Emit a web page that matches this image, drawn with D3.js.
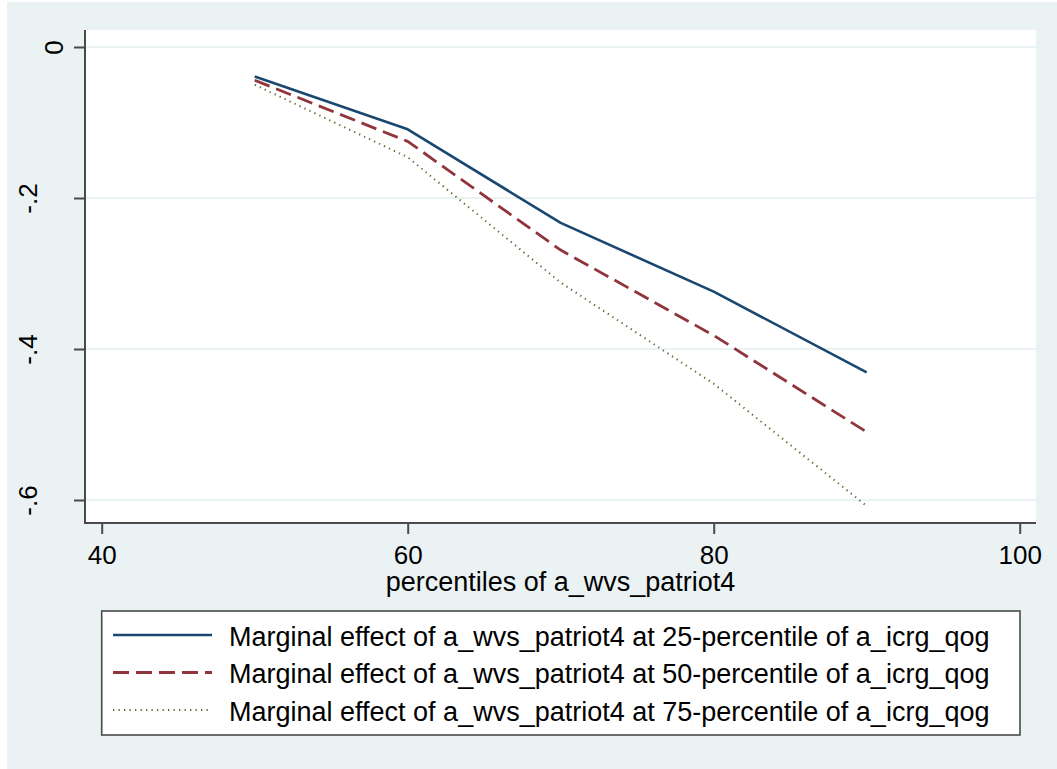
<!DOCTYPE html>
<html>
<head>
<meta charset="utf-8">
<script src="https://cdn.jsdelivr.net/npm/d3@7"></script>
<style>
  html, body { margin: 0; padding: 0; background: #ffffff; }
  svg { display: block; }
  text { font-family: "Liberation Sans", Arial, sans-serif; fill: #000; }
</style>
</head>
<body>
<svg id="chart" width="1057" height="769"></svg>
<script>
// ---- data ----
const percentiles = [50, 60, 70, 80, 90];
const me25 = [-0.039, -0.109, -0.233, -0.324, -0.431];
const me50 = [-0.044, -0.125, -0.269, -0.382, -0.510];
const me75 = [-0.050, -0.146, -0.312, -0.446, -0.608];
const xTicks = [40, 60, 80, 100];
const yTicks = [0, -0.2, -0.4, -0.6];
const yTickLabels = ["0", "-.2", "-.4", "-.6"];
const seriesNames = [
  "Marginal effect of a_wvs_patriot4 at 25-percentile of a_icrg_qog",
  "Marginal effect of a_wvs_patriot4 at 50-percentile of a_icrg_qog",
  "Marginal effect of a_wvs_patriot4 at 75-percentile of a_icrg_qog"
];
const xTitle = "percentiles of a_wvs_patriot4";

// ---- layout ----
const W = 1057, H = 769;
const plot = { left: 85, top: 30, right: 1036, bottom: 523 };
const bg = "#EAF2F3";
const axisColor = "#4a4a4a";
const tickFont = "26px";
const font = "27px";

const svg = d3.select("#chart");

svg.append("rect").attr("x", 7).attr("y", 2).attr("width", W - 7).attr("height", H - 2).attr("fill", bg);
svg.append("rect").attr("x", plot.left).attr("y", plot.top)
  .attr("width", plot.right - plot.left).attr("height", plot.bottom - plot.top).attr("fill", "#fff");

const x = d3.scaleLinear().domain([40, 100]).range([101.7, 1019.7]);
const y = d3.scaleLinear().domain([0, -0.6]).range([47, 500]);

// gridlines
svg.append("g").selectAll("line").data(yTicks).join("line")
  .attr("x1", plot.left + 1).attr("x2", plot.right)
  .attr("y1", d => y(d)).attr("y2", d => y(d))
  .attr("stroke", bg).attr("stroke-width", 2);

// series
const series = [
  { vals: me25, color: "#1A476F", dash: null, width: 2.6 },
  { vals: me50, color: "#90353B", dash: "16,7", width: 2.8 },
  { vals: me75, color: "#55752F", dash: "1.3,4.2", width: 2 }
];
const line = d3.line().x(d => x(d[0])).y(d => y(d[1]));
series.forEach(s => {
  svg.append("path")
    .datum(percentiles.map((p, i) => [p, s.vals[i]]))
    .attr("d", line)
    .attr("fill", "none")
    .attr("stroke", s.color)
    .attr("stroke-width", s.width)
    .attr("stroke-dasharray", s.dash)
    .attr("stroke-linejoin", "round");
});

// y axis
const yAxis = d3.axisLeft(y).tickValues(yTicks).tickSize(11).tickPadding(0)
  .tickFormat((d, i) => yTickLabels[i]);
const gy = svg.append("g").attr("transform", `translate(${plot.left},0)`).call(yAxis);
gy.select(".domain").remove();
gy.selectAll(".tick line").attr("stroke", axisColor).attr("stroke-width", 2);
gy.selectAll(".tick text")
  .attr("x", 0).attr("dy", 0)
  .attr("text-anchor", "middle")
  .attr("transform", d => `translate(${d === 0 ? -22 : -48},0) rotate(-90)`)
  .style("font-size", tickFont)
  .style("font-family", "'Liberation Sans', Arial, sans-serif")
  .attr("fill", "#000");
svg.append("line").attr("x1", plot.left).attr("x2", plot.left)
  .attr("y1", plot.top).attr("y2", plot.bottom + 1)
  .attr("stroke", axisColor).attr("stroke-width", 2);

// x axis
const xAxis = d3.axisBottom(x).tickValues(xTicks).tickSize(11).tickPadding(0);
const gx = svg.append("g").attr("transform", `translate(0,${plot.bottom})`).call(xAxis);
gx.select(".domain").remove();
gx.selectAll(".tick line").attr("stroke", axisColor).attr("stroke-width", 2);
gx.selectAll(".tick text")
  .attr("y", 41).attr("dy", 0)
  .style("font-size", tickFont)
  .style("font-family", "'Liberation Sans', Arial, sans-serif")
  .attr("fill", "#000");
svg.append("line").attr("x1", plot.left - 1).attr("x2", plot.right)
  .attr("y1", plot.bottom).attr("y2", plot.bottom)
  .attr("stroke", axisColor).attr("stroke-width", 2);

// x title
svg.append("text").attr("x", (plot.left + plot.right) / 2).attr("y", 591)
  .attr("text-anchor", "middle").style("font-size", font).text(xTitle);

// legend
const leg = { left: 101.7, top: 611, right: 1020, bottom: 735 };
svg.append("rect").attr("x", leg.left).attr("y", leg.top)
  .attr("width", leg.right - leg.left).attr("height", leg.bottom - leg.top)
  .attr("fill", "#fff").attr("stroke", axisColor).attr("stroke-width", 1.6);
const rowY = d3.scaleLinear().domain([0, 2]).range([635, 710]);
series.forEach((s, i) => {
  svg.append("line").attr("x1", 113).attr("x2", 212)
    .attr("y1", rowY(i)).attr("y2", rowY(i))
    .attr("stroke", s.color).attr("stroke-width", s.width)
    .attr("stroke-dasharray", s.dash);
  svg.append("text").attr("x", 229).attr("y", rowY(i) + 10.5)
    .style("font-size", font).text(seriesNames[i]);
});
</script>
</body>
</html>
